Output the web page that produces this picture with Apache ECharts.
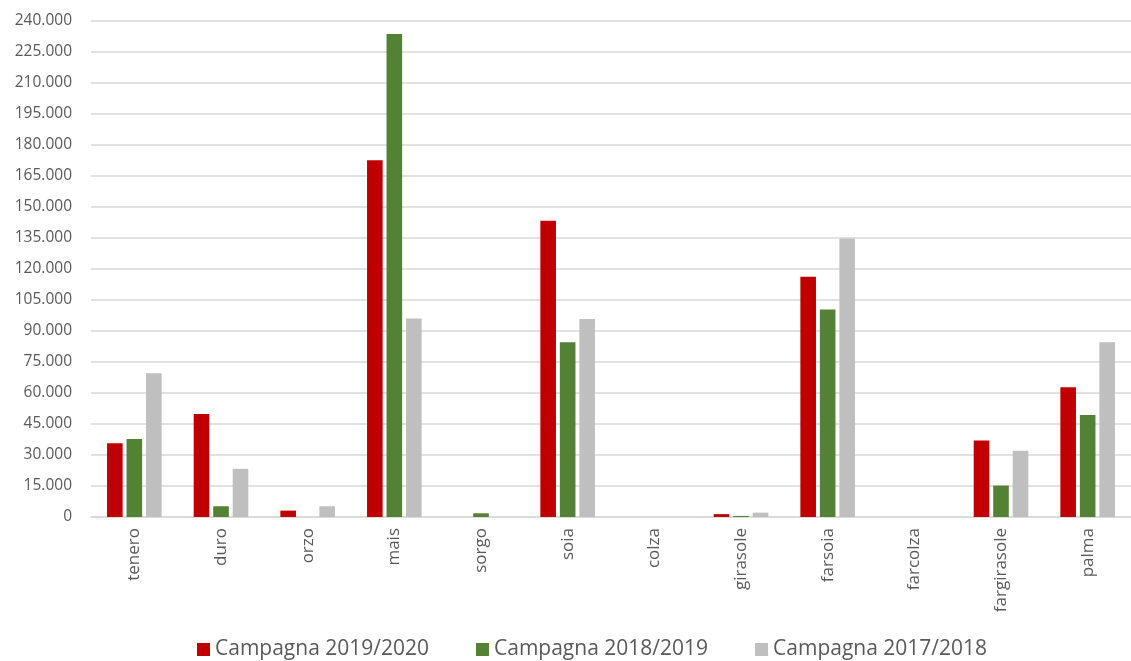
<!DOCTYPE html>
<html>
<head>
<meta charset="utf-8">
<script src="https://cdn.jsdelivr.net/npm/echarts@6/dist/echarts.min.js"></script>
<style>
html,body{margin:0;padding:0;background:#fff;}
#c{width:1131px;height:661px;}
</style>
</head>
<body>
<div id="c"></div>
<script>
const categories = ['tenero','duro','orzo','mais','sorgo','soia','colza','girasole','farsoia','farcolza','fargirasole','palma'];
const seriesNames = ['Campagna 2019/2020','Campagna 2018/2019','Campagna 2017/2018'];
const camp1920 = [35700, 49800, 3100, 172600, 0, 143300, 0, 1400, 116300, 0, 37000, 62800];
const camp1819 = [37800, 5200, 0, 233700, 1800, 84500, 0, 500, 100400, 0, 15200, 49400];
const camp1718 = [69600, 23300, 5200, 96100, 0, 95800, 0, 2100, 134700, 0, 32000, 84600];
const colors = ['#C00000', '#548235', '#BFBFBF'];
const yMin = 0, yMax = 240000, yInterval = 15000;

function fmt(v){
  return String(v).replace(/\B(?=(\d{3})+(?!\d))/g, '.');
}

const chart = echarts.init(document.getElementById('c'));
const data = [camp1920, camp1819, camp1718];
chart.setOption({
  animation: false,
  backgroundColor: '#fff',
  color: colors,
  textStyle: {fontFamily: 'Open Sans'},
  grid: {left: 91, right: -11, top: 21, bottom: 144, containLabel: false},
  legend: {
    top: 634,
    left: 192,
    itemWidth: 13,
    itemHeight: 13,
    itemGap: 47,
    icon: 'rect',
    textStyle: {fontSize: 21, color: '#595959', fontFamily: 'Open Sans'},
    data: seriesNames
  },
  xAxis: {
    type: 'category',
    data: categories,
    axisLine: {lineStyle: {color: '#D9D9D9', width: 1.5}},
    axisTick: {show: false},
    axisLabel: {rotate: 90, fontSize: 17, color: '#595959', margin: 11, interval: 0}
  },
  yAxis: {
    type: 'value',
    min: yMin, max: yMax, interval: yInterval,
    axisLine: {show: false},
    axisTick: {show: false},
    splitLine: {lineStyle: {color: '#D9D9D9', width: 1.5}},
    axisLabel: {fontSize: 15.5, color: '#595959', margin: 19, formatter: fmt}
  },
  series: seriesNames.map((n, i) => ({
    name: n,
    type: 'bar',
    data: data[i],
    barGap: '25%',
    barCategoryGap: '37%',
    itemStyle: {color: colors[i]}
  }))
});
</script>
</body>
</html>
